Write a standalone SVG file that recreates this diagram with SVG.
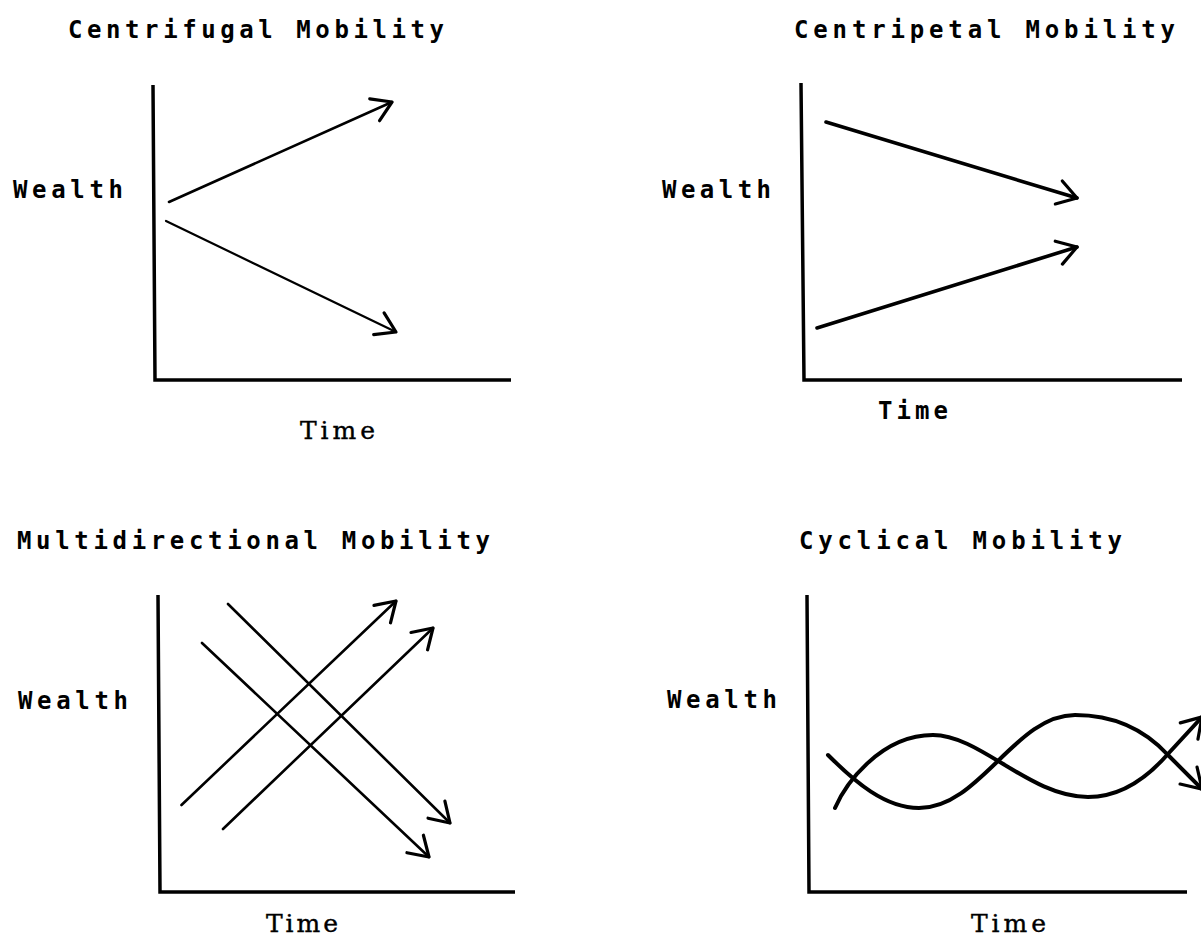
<svg xmlns="http://www.w3.org/2000/svg" width="1201" height="938" viewBox="0 0 1201 938">
<style>
.lbl{font-family:"DejaVu Sans Mono","Liberation Mono",monospace;font-size:24px;font-weight:bold;fill:#000}
.tm{font-family:"DejaVu Serif","Liberation Serif",serif;font-size:25px;fill:#000;stroke:#000;stroke-width:0.4}
.axis{fill:none;stroke:#000;stroke-width:3.5;stroke-linejoin:miter}
.ln{fill:none;stroke:#000;stroke-width:2.6;stroke-linecap:round;marker-end:url(#arr)}
.thick{stroke-width:3.6}
.curve{fill:none;stroke:#000;stroke-width:4;stroke-linecap:round;marker-end:url(#arr)}
</style>
<defs>
<marker id="arr" markerUnits="userSpaceOnUse" markerWidth="40" markerHeight="40" viewBox="-30 -20 40 40" refX="0" refY="0" orient="auto">
<path d="M-19,-12 L0,0 L-19,12" fill="none" stroke="#000" stroke-width="3.2" stroke-linecap="round" stroke-linejoin="round"/>
</marker>
</defs>
<rect width="1201" height="938" fill="#fff"/>

<g id="panel-centrifugal">
<text class="lbl" x="68" y="38" textLength="376" lengthAdjust="spacing">Centrifugal Mobility</text>
<text class="lbl" x="13" y="198" textLength="110" lengthAdjust="spacing">Wealth</text>
<path class="axis" d="M153,85 L155,380 L511,380"/>
<text class="tm" x="300" y="439" textLength="75" lengthAdjust="spacing">Time</text>
</g>

<g id="panel-centripetal">
<text class="lbl" x="794" y="38" textLength="381" lengthAdjust="spacing">Centripetal Mobility</text>
<text class="lbl" x="662" y="198" textLength="109" lengthAdjust="spacing">Wealth</text>
<path class="axis" d="M801,83 L804,380 L1182,380"/>
<text class="lbl" x="878" y="419" textLength="70" lengthAdjust="spacing">Time</text>
</g>

<g id="panel-multidirectional">
<text class="lbl" x="17" y="549" textLength="473" lengthAdjust="spacing">Multidirectional Mobility</text>
<text class="lbl" x="18" y="709" textLength="110" lengthAdjust="spacing">Wealth</text>
<path class="axis" d="M158,595 L160,892 L515,892"/>
<text class="tm" x="266" y="932" textLength="72" lengthAdjust="spacing">Time</text>
</g>

<g id="panel-cyclical">
<text class="lbl" x="799" y="549" textLength="323" lengthAdjust="spacing">Cyclical Mobility</text>
<text class="lbl" x="667" y="708" textLength="110" lengthAdjust="spacing">Wealth</text>
<path class="axis" d="M807,595 L809,892 L1187,892"/>
<text class="tm" x="971" y="932" textLength="75" lengthAdjust="spacing">Time</text>
</g>

<g id="connectors">
<line class="ln" x1="169" y1="202" x2="392" y2="102"/>
<line class="ln" x1="166" y1="221" x2="396" y2="332" style="stroke-width:2.2"/>
<line class="ln thick" x1="826" y1="122" x2="1077" y2="198"/>
<line class="ln thick" x1="817" y1="328" x2="1077" y2="247"/>
<line class="ln" x1="181.5" y1="805" x2="396" y2="601"/>
<line class="ln" x1="223" y1="829" x2="433" y2="628"/>
<line class="ln" x1="228" y1="604" x2="450" y2="823"/>
<line class="ln" x1="202" y1="643" x2="429" y2="857"/>
<path class="curve" d="M828,755 C855,782 885,808 919,808 C980,808 1015,715 1075,715 C1115,715 1145,730 1168,755 L1202,789"/>
<path class="curve" d="M835,808 C845,785 880,735 933,735 C980,735 1030,797 1088,797 C1120,797 1145,780 1167,755 L1202,717"/>
</g>
</svg>
